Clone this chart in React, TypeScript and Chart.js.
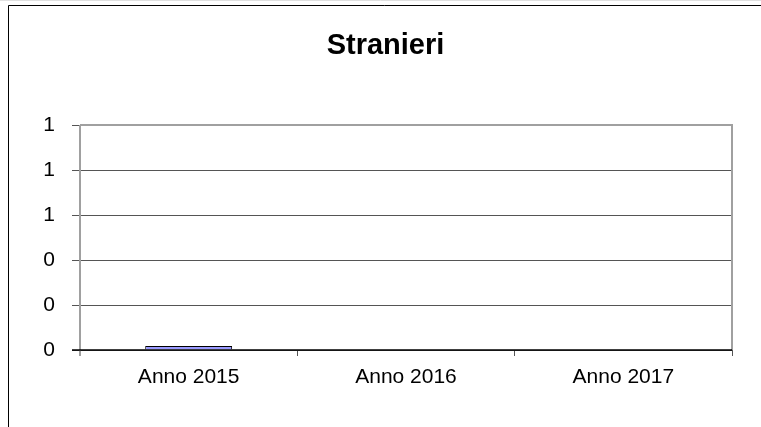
import React, { useEffect, useRef } from "react";
import { Chart, registerables } from "chart.js";

Chart.register(...registerables);

const categories = ["Anno 2015", "Anno 2016", "Anno 2017"];
const values: (number | null)[] = [0, null, null];
const yMin = 0;
const yMax = 1;
const yStep = 0.2;
const titleText = "Stranieri";

const FONT = "'Liberation Sans', Arial, sans-serif";

const framePlugin = {
  id: "frame",
  beforeDraw(chart: any) {
    const ctx = chart.ctx;
    ctx.save();
    ctx.fillStyle = "#ffffff";
    ctx.fillRect(0, 0, chart.width, chart.height);
    ctx.strokeStyle = "#e0e0e0";
    ctx.lineWidth = 1;
    ctx.beginPath();
    ctx.moveTo(0, 0.5);
    ctx.lineTo(chart.width, 0.5);
    ctx.stroke();
    ctx.strokeStyle = "#000000";
    ctx.beginPath();
    ctx.moveTo(8.5, chart.height);
    ctx.lineTo(8.5, 5.5);
    ctx.lineTo(chart.width, 5.5);
    ctx.stroke();
    ctx.fillStyle = "#000000";
    ctx.font = `bold 29px ${FONT}`;
    ctx.textAlign = "center";
    ctx.textBaseline = "alphabetic";
    ctx.fillText(titleText, 385.5, 53.5);
    ctx.restore();
  },
  afterDatasetsDraw(chart: any) {
    const { ctx, chartArea } = chart;
    const { left, right, top, bottom } = chartArea;
    ctx.save();
    ctx.strokeStyle = "#a0a0a0";
    ctx.lineWidth = 2;
    ctx.beginPath();
    ctx.moveTo(left, top);
    ctx.lineTo(right, top);
    ctx.lineTo(right, bottom);
    ctx.stroke();
    ctx.beginPath();
    ctx.moveTo(left, top);
    ctx.lineTo(left, bottom + 6);
    ctx.stroke();
    ctx.strokeStyle = "#000000";
    ctx.lineWidth = 1.5;
    ctx.beginPath();
    ctx.moveTo(left - 8, bottom);
    ctx.lineTo(right, bottom);
    ctx.stroke();
    ctx.restore();
  },
};

export default function App() {
  const ref = useRef<HTMLCanvasElement | null>(null);
  useEffect(() => {
    if (!ref.current) return;
    const chart = new Chart(ref.current, {
      type: "bar",
      data: {
        labels: categories,
        datasets: [
          {
            label: titleText,
            data: values as any,
            backgroundColor: "#9999ff",
            borderColor: "#000000",
            borderWidth: 1,
            minBarLength: 4,
            categoryPercentage: 1,
            barPercentage: 0.4,
          },
        ],
      },
      options: {
        responsive: false,
        animation: false,
        layout: { padding: { top: 125, right: 29, left: 0, bottom: 0 } },
        plugins: {
          legend: { display: false },
          title: { display: false },
          tooltip: { enabled: false },
        },
        scales: {
          x: {
            grid: {
              offset: true,
              drawOnChartArea: false,
              drawTicks: true,
              tickLength: 6,
              color: "#555555",
            },
            border: { display: false },
            ticks: {
              color: "#000000",
              font: { family: FONT, size: 21 },
              padding: 9,
              maxRotation: 0,
            },
            afterFit(scale: any) {
              scale.height = 77;
            },
          },
          y: {
            min: yMin,
            max: yMax,
            grid: {
              color: "#555555",
              tickLength: 8,
              drawTicks: true,
            },
            border: { display: false },
            ticks: {
              stepSize: yStep,
              color: "#000000",
              font: { family: FONT, size: 21 },
              padding: 17,
              callback: (v: any) => String(Math.round(Number(v))),
            },
            afterFit(scale: any) {
              scale.width = 80;
            },
          },
        },
      },
      plugins: [framePlugin],
    });
    return () => chart.destroy();
  }, []);
  return (
    <div style={{ position: "fixed", left: 0, top: 0, width: 761, height: 427 }}>
      <canvas ref={ref} width={761} height={427} style={{ display: "block" }} />
    </div>
  );
}
